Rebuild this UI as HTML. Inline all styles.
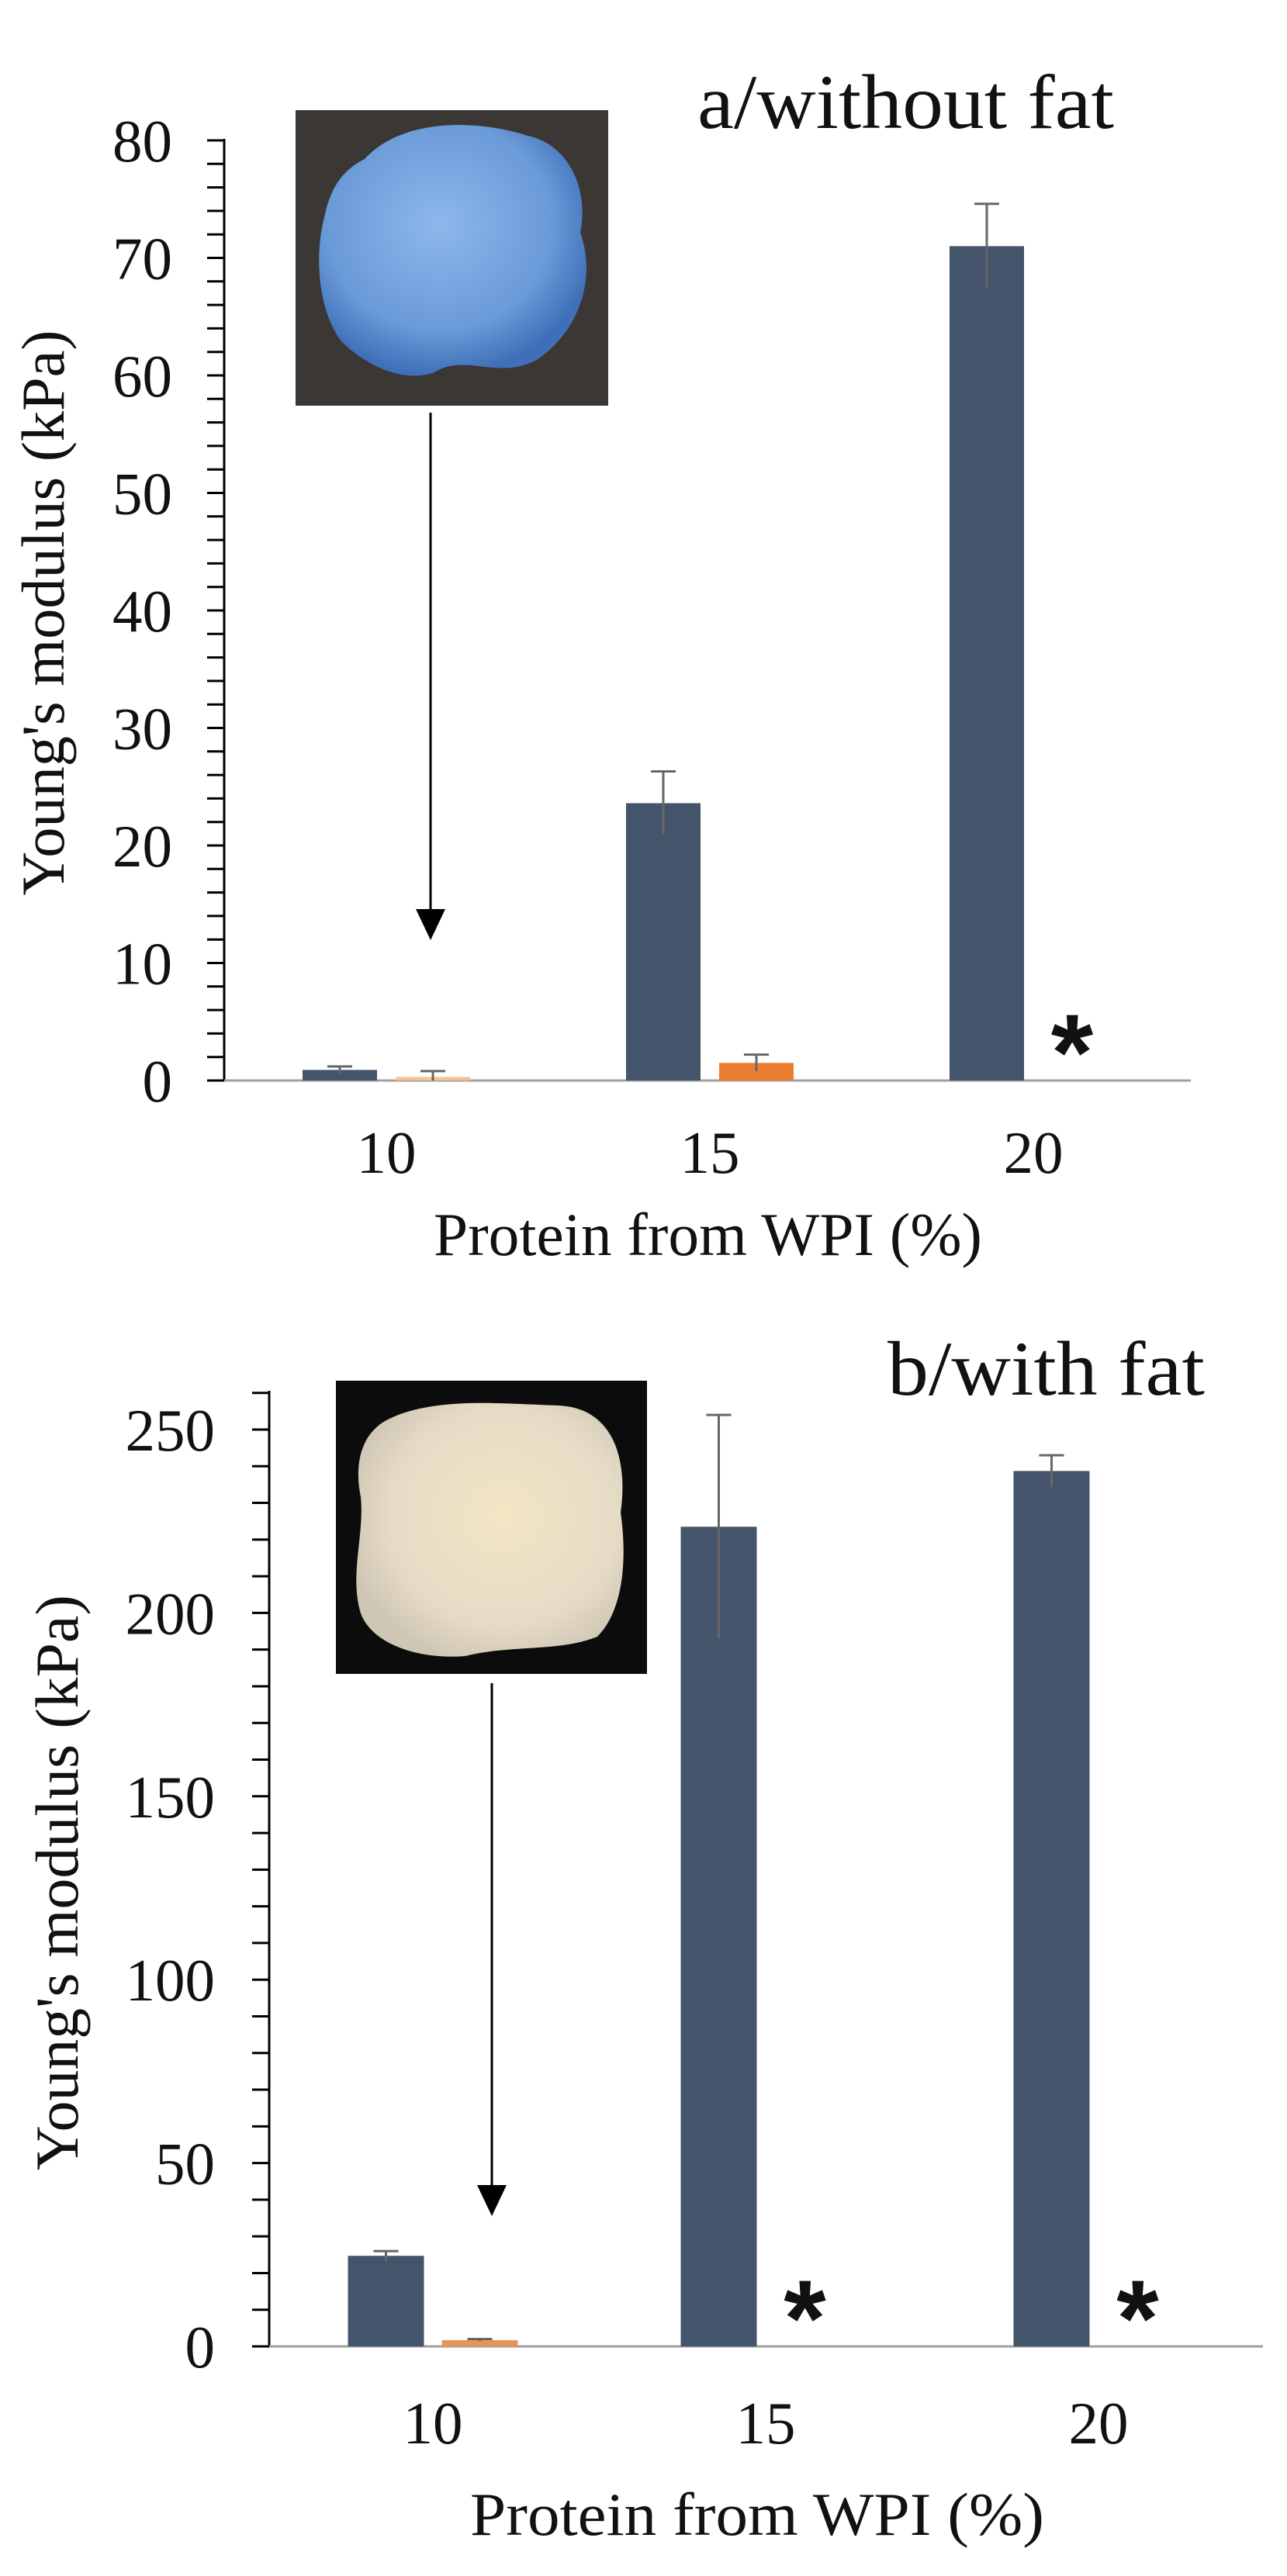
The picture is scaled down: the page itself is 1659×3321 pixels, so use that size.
<!DOCTYPE html>
<html><head><meta charset="utf-8"><style>
html,body{margin:0;padding:0;background:#fff;}
svg{display:block;}
text{font-family:"Liberation Serif",serif;fill:#111;}
</style></head><body>
<svg id="fig" width="1659" height="3321" viewBox="0 0 1659 3321" xmlns="http://www.w3.org/2000/svg">
<defs>
<radialGradient id="blueG" cx="45%" cy="40%" r="60%"><stop offset="0" stop-color="#8db8ec"/><stop offset="0.7" stop-color="#6a9ad8"/><stop offset="1" stop-color="#3f6fb8"/></radialGradient>
<radialGradient id="creamG" cx="55%" cy="45%" r="60%"><stop offset="0" stop-color="#f3e6c4"/><stop offset="0.7" stop-color="#e6dcc6"/><stop offset="1" stop-color="#cfc6b5"/></radialGradient>
</defs>
<g id="panelA"></g>
<g id="panelB"></g>
</svg>
<script>
// Panel A data
const catsA = ["10", "15", "20"];
const noFatA = [0.9, 23.6, 71.0];
const noFatErrA = [0.3, 2.7, 3.6];
const orangeA = [0.3, 1.5, null];
const orangeErrA = [0.5, 0.7, null];
const ticksA = [0, 10, 20, 30, 40, 50, 60, 70, 80];
// Panel B data
const catsB = ["10", "15", "20"];
const darkB = [24.7, 223.5, 238.7];
const darkErrB = [1.3, 30.5, 4.3];
const orangeB = [1.7, null, null];
const orangeErrB = [0.3, null, null];
const ticksB = [0, 50, 100, 150, 200, 250];

const NS = "http://www.w3.org/2000/svg";
function mk(parent, tag, attrs) {
  const e = document.createElementNS(NS, tag);
  for (const k in attrs) e.setAttribute(k, attrs[k]);
  parent.appendChild(e);
  return e;
}

function drawPanel(g, cfg) {
  const y = v => cfg.y0 - (v - cfg.ymin) / (cfg.ymax - cfg.ymin) * (cfg.y0 - cfg.ytop);
  const xc = i => cfg.x0c + i * cfg.step;
  // y axis
  const ax = mk(g, "line", {x1: cfg.ax, y1: cfg.axTop, x2: cfg.ax, y2: cfg.y0, stroke: "#000", "stroke-width": 3});
  
  
  for (let v = cfg.ymin; v <= cfg.ymax + 1e-9; v += cfg.minor) {
    const t = mk(g, "line", {x1: cfg.ax - 22, y1: y(v), x2: cfg.ax, y2: y(v), stroke: "#000", "stroke-width": 3});
    
    
  }
  cfg.ticks.forEach(v => {
    const t = mk(g, "text", {x: cfg.labelRight, y: y(v) + 27, "text-anchor": "end", "font-size": 77});
    t.textContent = v;
    
    
  });
  // x axis
  const xa = mk(g, "line", {x1: cfg.ax, y1: cfg.y0, x2: cfg.axEnd, y2: cfg.y0, stroke: "#a0a0a0", "stroke-width": 3});
  
  
  cfg.cats.forEach((c, i) => {
    const t = mk(g, "text", {x: xc(i), y: cfg.xLabelY, "text-anchor": "middle", "font-size": 77});
    t.textContent = c;
    
    
  });
  function bar(i, v, err, off, color, name) {
    if (v === null) return;
    const x = xc(i) + off;
    const r = mk(g, "rect", {x: x, y: y(v), width: cfg.bw, height: cfg.y0 - y(v), fill: color});
    
    
    if (err !== null) {
      const cx = x + cfg.bw / 2;
      const l = mk(g, "line", {x1: cx, y1: y(v + err), x2: cx, y2: y(Math.max(0, v - err)), stroke: "#666", "stroke-width": 3});
      
      
      const c = mk(g, "line", {x1: cx - 16, y1: y(v + err), x2: cx + 16, y2: y(v + err), stroke: "#666", "stroke-width": 3});
      
      
    }
  }
  cfg.cats.forEach((c, i) => {
    bar(i, cfg.dark[i], cfg.darkErr[i], -cfg.bw - cfg.gap / 2, "#44546a", "bar-dark");
    bar(i, cfg.orange[i], cfg.orangeErr[i], cfg.gap / 2, cfg.orangeColor[i], "bar-orange");
    if (cfg.orange[i] === null) {
      const s = mk(g, "text", {x: xc(i) + cfg.gap / 2 + cfg.bw / 2 - 10, y: cfg.y0 - 65 + 77, "text-anchor": "middle", "font-size": 140, "font-weight": "bold", style: "font-family:'Liberation Sans',sans-serif"});
      s.textContent = "*";
      
      
    }
  });
  // titles
  const yt = mk(g, "text", {x: 0, y: 0, "text-anchor": "middle", "font-size": 78, transform: `translate(${cfg.ytX},${cfg.ytY}) rotate(-90)`, textLength: cfg.ytLen, lengthAdjust: "spacingAndGlyphs"});
  yt.textContent = "Young's modulus (kPa)";
  
  
  const xt = mk(g, "text", {x: cfg.xtX, y: cfg.xtY, "font-size": 78, textLength: cfg.xtLen, lengthAdjust: "spacingAndGlyphs"});
  xt.textContent = "Protein from WPI (%)";
  
  
  const pt = mk(g, "text", {x: cfg.ptX, y: cfg.ptY, "font-size": 100, textLength: cfg.ptLen, lengthAdjust: "spacingAndGlyphs"});
  pt.textContent = cfg.title;
  
  
  // photo
  const ph = mk(g, "g", {});
  
  
  const p = cfg.photo;
  mk(ph, "rect", {x: p.x, y: p.y, width: p.w, height: p.h, fill: p.bg});
  mk(ph, "path", {d: p.blob, fill: p.fill});
  // arrow
  const ar = mk(g, "g", {});
  
  
  mk(ar, "line", {x1: cfg.arX, y1: cfg.arY1, x2: cfg.arX, y2: cfg.arY2 - 35, stroke: "#000", "stroke-width": 3});
  mk(ar, "path", {d: `M${cfg.arX - 19},${cfg.arY2 - 40} L${cfg.arX + 19},${cfg.arY2 - 40} L${cfg.arX},${cfg.arY2} Z`, fill: "#000"});
}

drawPanel(document.getElementById("panelA"), {
  cats: catsA, dark: noFatA, darkErr: noFatErrA, orange: orangeA, orangeErr: orangeErrA,
  orangeColor: ["#f2c28f", "#ed7d31", "#ed7d31"], ticks: ticksA,
  ymin: 0, ymax: 80, minor: 2, y0: 1393, ytop: 181, axTop: 179, ax: 289, axEnd: 1535,
  labelRight: 222, x0c: 498, step: 417, bw: 96, gap: 24, xLabelY: 1512,
  ytX: 82, ytY: 790, ytLen: 729, xtX: 559, xtY: 1618, xtLen: 707,
  title: "a/without fat", ptX: 899, ptY: 165, ptLen: 537,
  photo: {x: 381, y: 142, w: 403, h: 381, bg: "#3b3735", fill: "url(#blueG)",
    blob: "M470,205 C520,150 620,155 680,175 C730,185 760,240 748,300 C770,360 745,430 690,465 C640,490 600,455 560,480 C520,495 470,470 440,440 C410,400 405,330 418,280 C425,245 440,220 470,205 Z"},
  arX: 555, arY1: 532, arY2: 1212
});

drawPanel(document.getElementById("panelB"), {
  cats: catsB, dark: darkB, darkErr: darkErrB, orange: orangeB, orangeErr: orangeErrB,
  orangeColor: ["#e8935a", "#ed7d31", "#ed7d31"], ticks: ticksB,
  ymin: 0, ymax: 260, minor: 10, y0: 3025, ytop: 3025 - 260 * 4.728, axTop: 1793, ax: 347, axEnd: 1628,
  labelRight: 277, x0c: 558, step: 429, bw: 98, gap: 23, xLabelY: 3150,
  ytX: 100, ytY: 2427, ytLen: 742, xtX: 606, xtY: 3268, xtLen: 740,
  title: "b/with fat", ptX: 1144, ptY: 1798, ptLen: 409,
  photo: {x: 433, y: 1780, w: 401, h: 378, bg: "#0c0c0c", fill: "url(#creamG)",
    blob: "M500,1830 C560,1800 650,1810 720,1812 C790,1815 810,1880 800,1950 C810,2020 800,2080 770,2110 C720,2130 660,2120 600,2135 C540,2140 480,2120 465,2080 C450,2030 470,1980 465,1930 C455,1880 470,1845 500,1830 Z"},
  arX: 634, arY1: 2170, arY2: 2857
});
</script>
</body></html>
